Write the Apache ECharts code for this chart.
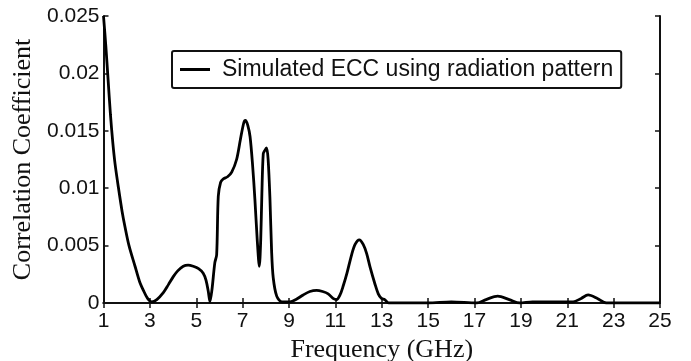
<!DOCTYPE html>
<html>
<head>
<meta charset="utf-8">
<script src="https://cdn.jsdelivr.net/npm/echarts@6/dist/echarts.min.js"></script>
<style>html,body{margin:0;padding:0;background:#fff}#c{width:691px;height:361px}</style>
</head>
<body>
<div id="c"></div>
<script>
const seriesName = 'Simulated ECC using radiation pattern';
const freq = [1.0,1.1,1.2,1.3,1.4,1.5,1.64,1.8,1.93,2.1,2.36,2.55,2.72,2.9,3.08,3.3,3.58,3.8,4.01,4.2,4.44,4.65,4.87,5.1,5.3,5.42,5.52,5.59,5.68,5.8,5.88,5.95,6.05,6.16,6.35,6.53,6.74,6.9,7.05,7.12,7.22,7.32,7.43,7.53,7.63,7.72,7.78,7.83,7.89,7.96,8.03,8.1,8.18,8.25,8.32,8.47,8.7,9.04,9.3,9.61,9.9,10.19,10.45,10.69,10.9,11.05,11.2,11.34,11.5,11.7,11.85,12.03,12.2,12.35,12.5,12.7,12.85,12.99,13.13,13.3,15,16,17.1,17.5,18.0,18.5,18.95,19.5,21.25,21.6,21.9,22.3,22.69,25];
const ecc = [0.0250,0.0224,0.0194,0.0164,0.0140,0.0121,0.0101,0.0080,0.0066,0.0050,0.0032,0.0019,0.0011,0.0004,0.0001,0.0003,0.0009,0.0016,0.0023,0.0028,0.0032,0.0033,0.0032,0.0030,0.0026,0.0020,0.0010,0.0001,0.0012,0.0035,0.0042,0.0093,0.0105,0.0108,0.0110,0.0114,0.0125,0.0142,0.0157,0.0159,0.0155,0.0145,0.0120,0.0090,0.0055,0.0032,0.0055,0.0095,0.0130,0.0133,0.0135,0.0125,0.0090,0.0045,0.0022,0.0006,0.0001,0.0001,0.0003,0.0007,0.0010,0.0011,0.0010,0.0008,0.0004,0.0003,0.0007,0.0015,0.0026,0.0042,0.0051,0.0055,0.0051,0.0043,0.0031,0.0017,0.0008,0.0004,0.0003,0.0000,0.0000,0.0001,0.0000,0.0003,0.0006,0.0003,0.0000,0.0001,0.0001,0.0004,0.0007,0.0004,0.0000,0.0000];
const xTicks = [1,3,5,7,9,11,13,15,17,19,21,23,25];
const yTicks = ['0','0.005','0.01','0.015','0.02','0.025'];

const chart = echarts.init(document.getElementById('c'), null, {renderer:'canvas'});
const labelFont = {fontFamily:'Liberation Sans', fontSize:21, color:'#111'};
const axLine = {show:true, lineStyle:{color:'#111', width:2}};
const tick = {show:true, inside:true, length:5, lineStyle:{color:'#111', width:1.5}};
chart.setOption({
  animation:false,
  backgroundColor:'#fff',
  grid:{left:103.5, right:31, top:16, bottom:58, containLabel:false, outerBoundsMode:'none'},
  legend:{
    show:true, left:172, top:51, orient:'horizontal',
    data:[{name:seriesName, icon:'path://M0,0 L10,0 L10,1 L0,1 Z'}],
    itemWidth:42, itemHeight:3, itemGap:0,
    padding:[7,8,7,8], borderColor:'#111', borderWidth:2, borderRadius:2,
    textStyle:{fontFamily:'Liberation Sans', fontSize:23, color:'#111', padding:[0,0,0,1]},
    backgroundColor:'#fff'
  },
  xAxis:[{
    type:'value', min:1, max:25, interval:2,
    name:'Frequency (GHz)', nameLocation:'middle', nameGap:29,
    nameTextStyle:{fontFamily:'Liberation Serif', fontSize:26, color:'#111'},
    axisLine:axLine, axisTick:tick, splitLine:{show:false},
    axisLabel:Object.assign({margin:8, formatter:(v)=>{const i=Math.round((v-1)/2);return xTicks[i]!==undefined?String(xTicks[i]):String(v);}}, labelFont)
  },{
    type:'value', min:1, max:25, interval:2, position:'top',
    axisLine:axLine, axisTick:tick, splitLine:{show:false}, axisLabel:{show:false}
  }],
  yAxis:[{
    type:'value', min:0, max:0.025, interval:0.005,
    name:'Correlation Coefficient', nameLocation:'middle', nameGap:67,
    nameTextStyle:{fontFamily:'Liberation Serif', fontSize:26, color:'#111'},
    axisLine:axLine, axisTick:tick, splitLine:{show:false},
    axisLabel:Object.assign({margin:4, formatter:(v)=>{const i=Math.round(v/0.005);return yTicks[i]!==undefined?yTicks[i]:String(v);}}, labelFont)
  },{
    type:'value', min:0, max:0.025, interval:0.005, position:'right',
    axisLine:axLine, axisTick:tick, splitLine:{show:false}, axisLabel:{show:false}
  }],
  series:[{
    name:seriesName, type:'line', xAxisIndex:0, yAxisIndex:0,
    data:freq.map((f,i)=>[f,ecc[i]]),
    smooth:0.3, showSymbol:false, symbol:'none',
    lineStyle:{color:'#000', width:2.8}, itemStyle:{color:'#000'}
  }]
});
</script>
</body>
</html>
